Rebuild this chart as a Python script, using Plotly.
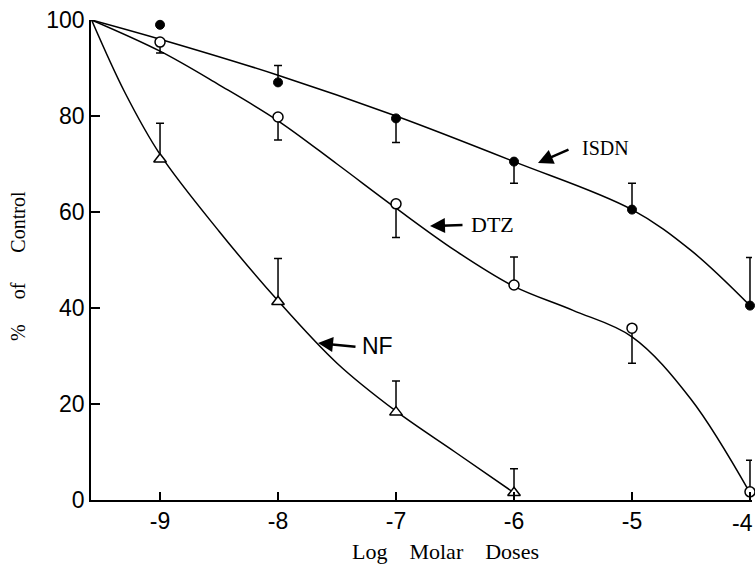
import plotly.graph_objects as go

# ---------------- data ----------------
doses = [-9, -8, -7, -6, -5, -4]
nf_doses = [-9, -8, -7, -6]

isdn = [99, 87, 79.5, 70.5, 60.5, 40.5]
isdn_err_plus = [0, 3.5, 0, 0, 5.5, 10]
isdn_err_minus = [0, 0, 5, 4.5, 0, 0]

dtz = [95.4, 79.8, 61.7, 44.8, 35.8, 1.7]
dtz_err_plus = [0, 0, 0, 5.8, 0, 6.6]
dtz_err_minus = [2.3, 4.8, 7.0, 0, 7.3, 0]

nf = [71, 41.3, 18.3, 1.5]
nf_err_plus = [7.5, 9, 6.5, 5]
nf_err_minus = [0, 0, 0, 0]

# hand-drawn fitted curves
isdn_curve_x = [-9.58, -9, -8, -7, -6, -5, -4.5, -4]
isdn_curve_y = [100, 96, 88.5, 80, 70.5, 60.5, 52, 40.5]

dtz_curve_x = [-9.58, -9, -8.5, -8, -7.5, -7, -6.5, -6, -5.5, -5, -4.5, -4]
dtz_curve_y = [100, 93.5, 86.5, 79, 70, 60.8, 52, 44.5, 39.5, 34, 21, 1.5]

nf_curve_x = [-9.58, -9.3, -9, -8.5, -8, -7.5, -7, -6.5, -6]
nf_curve_y = [100, 85, 72, 56, 41.5, 28.5, 18.5, 10, 1.5]

x_ticks = [-9, -8, -7, -6, -5, -4]
y_ticks = [0, 20, 40, 60, 80, 100]

# ---------------- figure ----------------
W, H = 755, 576
ML, MR, MT, MB = 91, 3, 20, 76

SANS = "Liberation Sans Narrow, Arial Narrow, Liberation Sans, sans-serif"
SERIF = "Liberation Serif, Times New Roman, serif"

fig = go.Figure()

for cx, cy in [(isdn_curve_x, isdn_curve_y), (dtz_curve_x, dtz_curve_y), (nf_curve_x, nf_curve_y)]:
    fig.add_trace(go.Scatter(x=cx, y=cy, mode="lines",
                             line=dict(color="black", width=1.5, shape="spline", smoothing=1.0),
                             hoverinfo="skip", showlegend=False))

def err_trace(x, y, plus, minus):
    return go.Scatter(x=x, y=y, mode="markers", marker=dict(size=1, opacity=0),
                      error_y=dict(type="data", symmetric=False, array=plus, arrayminus=minus,
                                   color="black", thickness=1.5, width=4),
                      cliponaxis=False, showlegend=False, hoverinfo="skip")

fig.add_trace(err_trace(doses, isdn, isdn_err_plus, isdn_err_minus))
fig.add_trace(err_trace(doses, dtz, dtz_err_plus, dtz_err_minus))
fig.add_trace(err_trace(nf_doses, nf, nf_err_plus, nf_err_minus))

fig.add_trace(go.Scatter(x=doses, y=isdn, mode="markers", name="ISDN",
                         marker=dict(symbol="circle", size=9, color="black",
                                     line=dict(color="black", width=1)),
                         cliponaxis=False, showlegend=False))
fig.add_trace(go.Scatter(x=doses, y=dtz, mode="markers", name="DTZ",
                         marker=dict(symbol="circle", size=10, color="white",
                                     line=dict(color="black", width=1.5)),
                         cliponaxis=False, showlegend=False))
fig.add_trace(go.Scatter(x=nf_doses, y=nf, mode="markers", name="NF",
                         marker=dict(symbol="triangle-up", size=11, color="white",
                                     line=dict(color="black", width=1.5)),
                         cliponaxis=False, showlegend=False))

# pixel helpers for annotation placement
PW = W - ML - MR
PH = H - MT - MB
def px_x(p):
    return (p - ML) / PW
def px_y(p):
    return 1 - (p - MT) / PH

ann = []
# arrows (head, tail in px)
for hx, hy, tx, ty in [(538, 163, 570, 149), (430, 226, 464, 225), (318, 343, 357, 347)]:
    ann.append(dict(xref="paper", yref="paper", x=px_x(hx), y=px_y(hy), ax=tx - hx, ay=ty - hy,
                    text="", showarrow=True, arrowhead=2, arrowsize=1.2, arrowwidth=2.5,
                    arrowcolor="black", standoff=0, startstandoff=0))
# series labels
ann.append(dict(xref="paper", yref="paper", x=px_x(580), y=px_y(148), text="ISDN",
                showarrow=False, xanchor="left", yanchor="middle",
                font=dict(family=SERIF, size=20, color="black")))
ann.append(dict(xref="paper", yref="paper", x=px_x(469), y=px_y(225), text="DTZ",
                showarrow=False, xanchor="left", yanchor="middle",
                font=dict(family=SERIF, size=22, color="black")))
ann.append(dict(xref="paper", yref="paper", x=px_x(360), y=px_y(346), text="NF",
                showarrow=False, xanchor="left", yanchor="middle",
                font=dict(family=SANS, size=23, color="black")))
# last x tick label, kept inside the page (it touches the right edge in the reference)
ann.append(dict(xref="paper", yref="paper", x=px_x(755), y=px_y(523),
                text=str(x_ticks[-1]), showarrow=False, xanchor="right", yanchor="middle",
                font=dict(family=SANS, size=23, color="black")))
# axis titles
NB = "\u00a0"
ann.append(dict(xref="paper", yref="paper", x=px_x(445), y=px_y(551),
                text="Log" + NB * 4 + "Molar" + NB * 4 + "Doses",
                showarrow=False, xanchor="center", yanchor="middle",
                font=dict(family=SERIF, size=22, color="black")))
ann.append(dict(xref="paper", yref="paper", x=px_x(18), y=px_y(266),
                text="%" + NB * 5 + "of" + NB * 6 + "Control", textangle=-90,
                showarrow=False, xanchor="center", yanchor="middle",
                font=dict(family=SERIF, size=20, color="black")))

x_ticktext = [str(v) for v in x_ticks[:-1]] + [""]

fig.update_layout(
    width=W, height=H,
    margin=dict(l=ML, r=MR, t=MT, b=MB),
    paper_bgcolor="white", plot_bgcolor="white",
    showlegend=False,
    annotations=ann,
    xaxis=dict(range=[-9.585, -3.983], tickvals=x_ticks, ticktext=x_ticktext,
               showgrid=False, zeroline=False, showline=True, linecolor="black", linewidth=1.5,
               ticks="inside", ticklen=8, tickwidth=1.5, tickcolor="black",
               tickfont=dict(family=SANS, size=23, color="black")),
    yaxis=dict(range=[0, 100], tickvals=y_ticks, ticktext=[str(v) for v in y_ticks],
               showgrid=False, zeroline=False, showline=True, linecolor="black", linewidth=1.5,
               ticks="inside", ticklen=9, tickwidth=1.5, tickcolor="black",
               tickfont=dict(family=SANS, size=23, color="black")),
)

fig.write_html("out.html")
